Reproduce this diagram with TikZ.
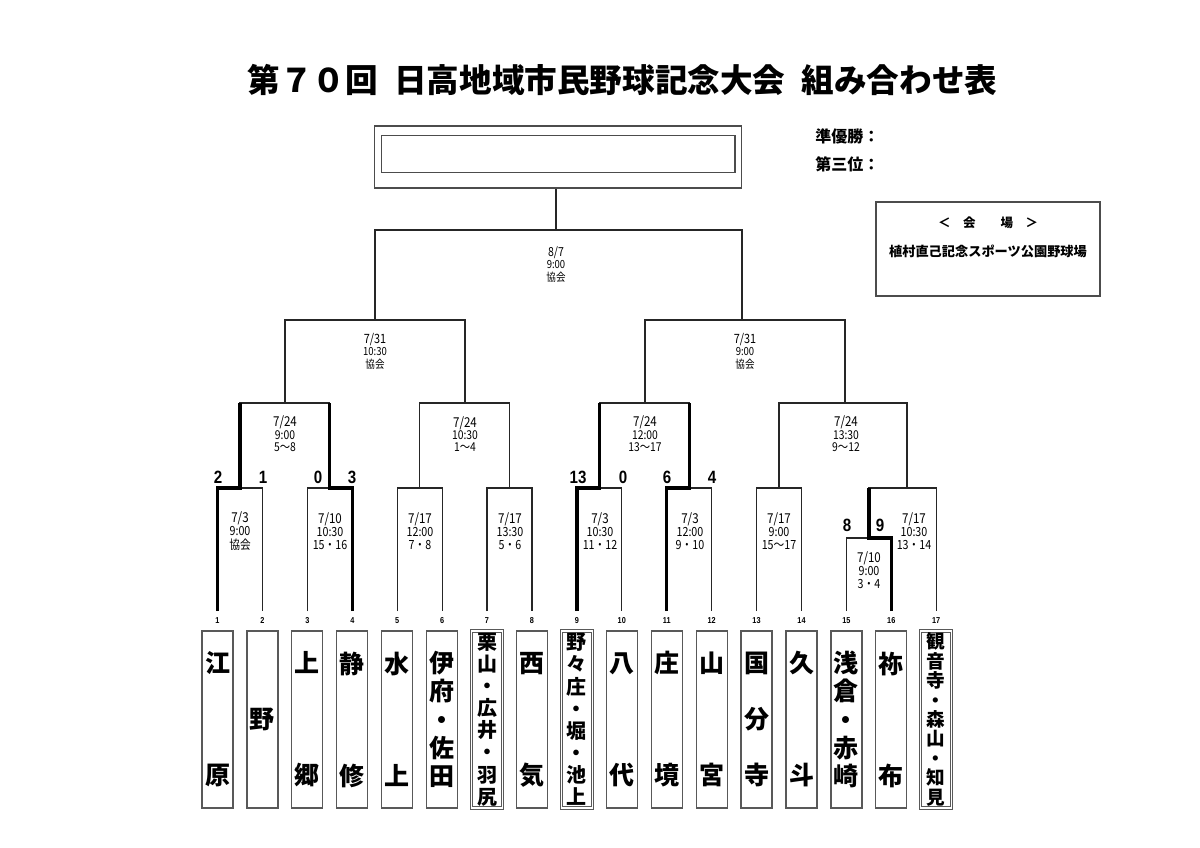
\documentclass[tikz,border=0pt]{standalone}
\usepackage{fontspec}
\setmainfont{Noto Sans CJK JP}
\newfontfamily\schedfont[FakeStretch=0.85]{Noto Sans CJK JP}
\newfontfamily\numfont[FakeStretch=0.85]{Liberation Sans}
\tikzset{
  ln/.style={line width=0.6pt, draw=black!85},
  win/.style={line width=1.6pt, draw=black},
  teambox/.style={draw=black!65, line width=0.6pt, minimum width=15.5pt, minimum height=88.5pt, inner sep=0pt, align=center},
  dbl/.style={double=white, double distance=0.7pt, line width=0.45pt},
  nA/.style={font=\bfseries\fontsize{12.5}{15}\selectfont},
  nB/.style={font=\bfseries\fontsize{12.5}{56}\selectfont},
  nC/.style={font=\bfseries\fontsize{12.5}{28}\selectfont},
  nE/.style={font=\bfseries\fontsize{12.5}{14.1}\selectfont},
  nH/.style={font=\bfseries\fontsize{10}{11.07}\selectfont},
  nI/.style={font=\bfseries\fontsize{9.3}{9.7}\selectfont},
  schedA/.style={align=center, inner sep=0pt, font=\schedfont\fontsize{5.6}{6.25}\selectfont},
  schedB/.style={align=center, inner sep=0pt, font=\schedfont\fontsize{6.1}{6.2}\selectfont},
  schedC/.style={align=center, inner sep=0pt, font=\schedfont\fontsize{6.3}{6.6}\selectfont},
  score/.style={inner sep=0pt, anchor=base, font=\numfont\bfseries\fontsize{8.9}{9}\selectfont},
  tnum/.style={inner sep=0pt, anchor=base, font=\numfont\bfseries\fontsize{4.3}{5}\selectfont},
  lbl/.style={inner sep=0pt, anchor=west, font=\bfseries\fontsize{8}{9}\selectfont},
}
\begin{document}
\begin{tikzpicture}[x=0.5pt,y=-0.5pt]
\useasboundingbox (0,0) rectangle (1200,847);
\fill[white] (0,0) rectangle (1200,847);

% title
\node[inner sep=0pt, font=\bfseries\fontsize{16.3}{20}\selectfont] (title) at (622.5,80) {第７０回\hspace{0.5em}日高地域市民野球記念大会\hspace{0.5em}組み合わせ表};

% champion box
\node[draw=black!70, line width=0.6pt, minimum width=183.5pt, minimum height=31pt, inner sep=0pt] (trophy) at (558,157) {};
\node[draw=black!70, line width=0.6pt, minimum width=176.6pt, minimum height=18.5pt, inner sep=0pt] (trophyin) at (558.3,154.2) {};

% side labels
\node[lbl] (runner) at (815,136) {準優勝：};
\node[lbl] (third) at (815,164) {第三位：};

% venue box
\node[draw=black!70, line width=0.6pt, minimum width=112pt, minimum height=47pt, inner sep=0pt] (venue) at (988,249) {};
\node[inner sep=0pt, font=\bfseries\fontsize{6.25}{7}\selectfont] (venuehead) at (988,223) {＜　会　　場　＞};
\node[inner sep=0pt, font=\bfseries\fontsize{6.6}{7}\selectfont] (venuename) at (988,251) {植村直己記念スポーツ公園野球場};

% team coordinates and numbers
\foreach \i/\x in {1/217.5,2/262.4,3/307.3,4/352.3,5/397.2,6/442.1,7/487.0,8/531.9,9/576.9,10/621.8,11/666.7,12/711.6,13/756.5,14/801.5,15/846.4,16/891.3,17/936.2}{
  \coordinate (t\i) at (\x,611);
  \node[tnum] (l\i) at (\x,623) {\i};
}

% team boxes
\node[teambox,nB] (b1) at (217.5,719.5) {江\\原};
\node[teambox,nA] (b2) at (262.4,719.5) {野};
\node[teambox,nB] (b3) at (307.3,719.5) {上\\郷};
\node[teambox,nB] (b4) at (352.3,719.5) {静\\修};
\node[teambox,nB] (b5) at (397.2,719.5) {水\\上};
\node[teambox,nE] (b6) at (442.1,719.5) {伊\\府\\・\\佐\\田};
\node[teambox,dbl,nH] (b7) at (487.0,719.5) {栗\\山\\・\\広\\井\\・\\羽\\尻};
\node[teambox,nB] (b8) at (531.9,719.5) {西\\気};
\node[teambox,dbl,nH] (b9) at (576.9,719.5) {野\\々\\庄\\・\\堀\\・\\池\\上};
\node[teambox,nB] (b10) at (621.8,719.5) {八\\代};
\node[teambox,nB] (b11) at (666.7,719.5) {庄\\境};
\node[teambox,nB] (b12) at (711.6,719.5) {山\\宮};
\node[teambox,nC] (b13) at (756.5,719.5) {国\\分\\寺};
\node[teambox,nB] (b14) at (801.5,719.5) {久\\斗};
\node[teambox,nE] (b15) at (846.4,719.5) {浅\\倉\\・\\赤\\崎};
\node[teambox,nB] (b16) at (891.3,719.5) {祢\\布};
\node[teambox,dbl,nI] (b17) at (936.2,719.5) {観\\音\\寺\\・\\森\\山\\・\\知\\見};

% junctions
\coordinate (j1) at (240,488);
\coordinate (j2) at (329.8,488);
\coordinate (j3) at (419.7,488);
\coordinate (j4) at (509.5,488);
\coordinate (j5) at (599.3,488);
\coordinate (j6) at (689.2,488);
\coordinate (j7) at (779,488);
\coordinate (j8a) at (868.9,538);
\coordinate (j8) at (907,488);
\coordinate (k1) at (285,403);
\coordinate (k2) at (465,403);
\coordinate (k3) at (645,403);
\coordinate (k4) at (845,403);
\coordinate (q1) at (375,320);
\coordinate (q2) at (742,320);
\coordinate (f) at (556,230);

% bracket lines
\draw[ln] (t1) |- (j1) -| (t2);
\draw[ln] (t3) |- (j2) -| (t4);
\draw[ln] (t5) |- (j3) -| (t6);
\draw[ln] (t7) |- (j4) -| (t8);
\draw[ln] (t9) |- (j5) -| (t10);
\draw[ln] (t11) |- (j6) -| (t12);
\draw[ln] (t13) |- (j7) -| (t14);
\draw[ln] (t15) |- (j8a) -| (t16);
\draw[ln] (j8a) |- (j8) -| (t17);
\draw[ln] (j1) |- (k1) -| (j2);
\draw[ln] (j3) |- (k2) -| (j4);
\draw[ln] (j5) |- (k3) -| (j6);
\draw[ln] (j7) |- (k4) -| (j8);
\draw[ln] (k1) |- (q1) -| (k2);
\draw[ln] (k3) |- (q2) -| (k4);
\draw[ln] (q1) |- (f) -| (q2);
\draw[ln] (f) -- (f |- trophy.south);

% winners
\draw[win] (t1) |- (j1) -- (j1 |- k1);
\draw[win] (t4) |- (j2) -- (j2 |- k1);
\draw[win] (t9) |- (j5) -- (j5 |- k3);
\draw[win] (t11) |- (j6) -- (j6 |- k3);
\draw[win] (t16) |- (j8a) -- (j8a |- j8);

% schedules
\node[schedA] (s0) at (556,264.5) {{\fontsize{6.2}{6.25}\selectfont 8/7}\\9:00\\協会};
\node[schedA] (s1) at (375,351) {{\fontsize{6.4}{6.25}\selectfont 7/31}\\10:30\\協会};
\node[schedA] (s2) at (745,351) {{\fontsize{6.4}{6.25}\selectfont 7/31}\\9:00\\協会};
\node[schedB] (s3) at (285,434) {{\fontsize{6.8}{6.2}\selectfont 7/24}\\9:00\\5〜8};
\node[schedB] (s4) at (465,434) {{\fontsize{6.8}{6.2}\selectfont 7/24}\\10:30\\1〜4};
\node[schedB] (s5) at (645,434) {{\fontsize{6.8}{6.2}\selectfont 7/24}\\12:00\\13〜17};
\node[schedB] (s6) at (846,434) {{\fontsize{6.8}{6.2}\selectfont 7/24}\\13:30\\9〜12};
\node[schedC] (r1) at (240,531) {{\fontsize{6.8}{6.6}\selectfont 7/3}\\9:00\\協会};
\node[schedC] (r2) at (330,531) {{\fontsize{6.8}{6.6}\selectfont 7/10}\\10:30\\15・16};
\node[schedC] (r3) at (420,531) {{\fontsize{6.8}{6.6}\selectfont 7/17}\\12:00\\7・8};
\node[schedC] (r4) at (510,531) {{\fontsize{6.8}{6.6}\selectfont 7/17}\\13:30\\5・6};
\node[schedC] (r5) at (600,531) {{\fontsize{6.8}{6.6}\selectfont 7/3}\\10:30\\11・12};
\node[schedC] (r6) at (690,531) {{\fontsize{6.8}{6.6}\selectfont 7/3}\\12:00\\9・10};
\node[schedC] (r7) at (779,531) {{\fontsize{6.8}{6.6}\selectfont 7/17}\\9:00\\15〜17};
\node[schedC] (r8) at (914,531) {{\fontsize{6.8}{6.6}\selectfont 7/17}\\10:30\\13・14};
\node[schedC] (r9) at (869,570) {{\fontsize{6.8}{6.6}\selectfont 7/10}\\9:00\\3・4};

% scores
\node[score] (sc1) at (218,483.5) {2};
\node[score] (sc2) at (263,483.5) {1};
\node[score] (sc3) at (318,483.5) {0};
\node[score] (sc4) at (352,483.5) {3};
\node[score] (sc9) at (578,483.5) {13};
\node[score] (sc10) at (623,483.5) {0};
\node[score] (sc11) at (667,483.5) {6};
\node[score] (sc12) at (712,483.5) {4};
\node[score] (sc15) at (847,531.5) {8};
\node[score] (sc16) at (880,531.5) {9};
\end{tikzpicture}
\end{document}
